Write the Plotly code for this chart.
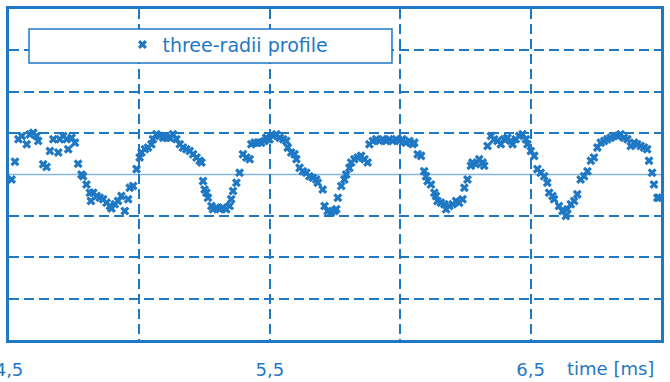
import plotly.graph_objects as go

# Sampled three-radii profile: time in ms, deviation in grid units
time_ms = [
    4.510, 4.523, 4.536, 4.549, 4.568, 4.580, 4.593, 4.606, 4.612, 4.631,
    4.644, 4.657, 4.670, 4.689, 4.695, 4.708, 4.721, 4.727, 4.740, 4.753,
    4.765, 4.778, 4.784, 4.797, 4.810, 4.814, 4.823, 4.836, 4.848, 4.861,
    4.874, 4.887, 4.893, 4.906, 4.918, 4.931, 4.944, 4.957, 4.963, 4.976,
    4.989, 5.001, 5.008, 5.021, 5.033, 5.046, 5.052, 5.065, 5.078, 5.091,
    5.104, 5.116, 5.129, 5.142, 5.155, 5.167, 5.180, 5.193, 5.206, 5.219,
    5.231, 5.238, 5.244, 5.250, 5.257, 5.263, 5.276, 5.282, 5.295, 5.308,
    5.320, 5.333, 5.346, 5.352, 5.359, 5.372, 5.384, 5.397, 5.410, 5.423,
    5.429, 5.442, 5.454, 5.467, 5.480, 5.486, 5.493, 5.499, 5.512, 5.525,
    5.538, 5.551, 5.563, 5.569, 5.582, 5.595, 5.602, 5.614, 5.627, 5.640,
    5.652, 5.665, 5.678, 5.684, 5.703, 5.710, 5.722, 5.735, 5.748, 5.755,
    5.761, 5.774, 5.786, 5.793, 5.805, 5.812, 5.824, 5.837, 5.850, 5.863,
    5.875, 5.882, 5.895, 5.908, 5.920, 5.933, 5.946, 5.958, 5.971, 5.984,
    5.997, 6.009, 6.022, 6.035, 6.048, 6.054, 6.067, 6.080, 6.092, 6.099,
    6.105, 6.118, 6.131, 6.137, 6.143, 6.156, 6.169, 6.176, 6.188, 6.201,
    6.214, 6.226, 6.239, 6.246, 6.258, 6.271, 6.277, 6.290, 6.303, 6.316,
    6.322, 6.335, 6.348, 6.360, 6.373, 6.386, 6.399, 6.411, 6.424, 6.431,
    6.443, 6.456, 6.469, 6.482, 6.488, 6.501, 6.514, 6.526, 6.539, 6.552,
    6.564, 6.571, 6.584, 6.590, 6.609, 6.622, 6.635, 6.641, 6.654, 6.667,
    6.679, 6.692, 6.705, 6.718, 6.731, 6.743, 6.756, 6.769, 6.782, 6.794,
    6.807, 6.820, 6.833, 6.845, 6.858, 6.871, 6.884, 6.897, 6.909, 6.922,
    6.935, 6.947, 6.954, 6.966, 6.973, 6.986, 6.992,
]
profile = [
    -0.12, 0.31, 0.85, 0.93, 0.73, 0.97, 1.01, 0.93, 0.81, 0.25,
    0.18, 0.57, 0.85, 0.53, 0.85, 0.93, 0.85, 0.61, 0.89, 0.77,
    0.26, 0.00, -0.04, -0.24, -0.44, -0.64, -0.44, -0.52, -0.56, -0.60,
    -0.68, -0.76, -0.82, -0.72, -0.64, -0.52, -0.88, -0.60, -0.32, -0.28,
    0.13, 0.41, 0.53, 0.61, 0.65, 0.73, 0.85, 0.97, 0.93, 0.89,
    0.89, 0.89, 0.97, 0.85, 0.73, 0.65, 0.61, 0.57, 0.49, 0.41,
    0.33, 0.29, -0.16, -0.36, -0.44, -0.56, -0.76, -0.84, -0.80, -0.84,
    -0.80, -0.84, -0.76, -0.60, -0.40, -0.20, 0.04, 0.49, 0.41, 0.37,
    0.73, 0.77, 0.77, 0.77, 0.81, 0.89, 0.85, 0.85, 0.93, 0.97,
    0.89, 0.85, 0.81, 0.65, 0.53, 0.49, 0.37, 0.16, 0.08, 0.04,
    -0.04, -0.08, -0.12, -0.20, -0.36, -0.76, -0.88, -0.92, -0.88, -0.84,
    -0.56, -0.28, -0.12, 0.00, 0.16, 0.29, 0.37, 0.41, 0.45, 0.37,
    0.29, 0.73, 0.81, 0.85, 0.81, 0.85, 0.81, 0.85, 0.81, 0.85,
    0.81, 0.85, 0.77, 0.81, 0.73, 0.77, 0.49, 0.45, 0.08, -0.04,
    -0.16, -0.24, -0.44, -0.52, -0.64, -0.68, -0.72, -0.84, -0.76, -0.72,
    -0.64, -0.68, -0.60, -0.32, -0.12, 0.21, 0.29, 0.25, 0.37, 0.29,
    0.21, 0.69, 0.93, 0.85, 0.81, 0.73, 0.85, 0.89, 0.81, 0.73,
    0.85, 0.93, 0.97, 0.85, 0.73, 0.57, 0.45, 0.13, 0.04, -0.04,
    -0.20, -0.44, -0.52, -0.60, -0.76, -0.88, -1.00, -0.84, -0.72, -0.64,
    -0.48, -0.12, -0.04, 0.08, 0.33, 0.41, 0.65, 0.77, 0.81, 0.85,
    0.89, 0.93, 0.93, 0.97, 0.89, 0.85, 0.69, 0.77, 0.73, 0.69,
    0.65, 0.61, 0.33, 0.04, -0.24, -0.56, -0.56,
]

x_tick_vals = [4.5, 5.0, 5.5, 6.0, 6.5, 7.0]
x_tick_text = ["4,5", "", "5,5", "", "6,5", ""]
y_grid_vals = [-4, -3, -2, -1, 1, 2, 3, 4]

BLUE = "#1f78c4"
LIGHT_BLUE = "#86b6e0"
FONT = "DejaVu Sans"

fig = go.Figure()
fig.add_trace(go.Scatter(
    x=time_ms, y=profile, mode="markers", name="three-radii profile",
    marker=dict(symbol="x", size=8, color=BLUE, line=dict(width=0)),
))

fig.update_layout(
    width=670, height=382,
    margin=dict(l=9, r=9, t=9, b=42, autoexpand=False),
    paper_bgcolor="white", plot_bgcolor="white",
    separators=",.",
    showlegend=True,
    legend=dict(
        x=0.174, y=0.892, xanchor="left", yanchor="middle",
        bgcolor="rgba(0,0,0,0)", borderwidth=0,
        font=dict(family=FONT, size=19, color=BLUE),
    ),
    shapes=[
        # legend frame
        dict(
            type="rect", xref="paper", yref="paper", layer="above",
            x0=(29 - 9) / 652, x1=(392 - 9) / 652,
            y0=(340 - 63) / 331, y1=(340 - 29) / 331,
            fillcolor="white", line=dict(color=BLUE, width=1.5),
        ),
        # thin solid reference line at zero
        dict(
            type="line", xref="paper", yref="y", layer="between",
            x0=0, x1=1, y0=0, y1=0,
            line=dict(color=LIGHT_BLUE, width=1.5),
        ),
    ],
    annotations=[dict(
        text="time [ms]", xref="paper", yref="paper",
        x=0.992, y=-0.085, xanchor="right", yanchor="middle",
        showarrow=False, font=dict(family=FONT, size=18, color=BLUE),
    )],
)

fig.update_xaxes(
    range=[4.5, 7.0], tickvals=x_tick_vals, ticktext=x_tick_text,
    showgrid=True, gridcolor=BLUE, gridwidth=2, griddash="10px,5px",
    showline=True, linecolor=BLUE, linewidth=2.5, mirror=True,
    zeroline=False, ticks="", ticklabelstandoff=12,
    ticklabeloverflow="allow", automargin=False,
    tickfont=dict(family=FONT, size=18, color=BLUE),
)
fig.update_yaxes(
    range=[-4, 4], tickvals=y_grid_vals, showticklabels=False,
    showgrid=True, gridcolor=BLUE, gridwidth=2, griddash="10px,5px",
    showline=True, linecolor=BLUE, linewidth=2.5, mirror=True,
    zeroline=False, automargin=False,
)

fig.write_html("out.html")
